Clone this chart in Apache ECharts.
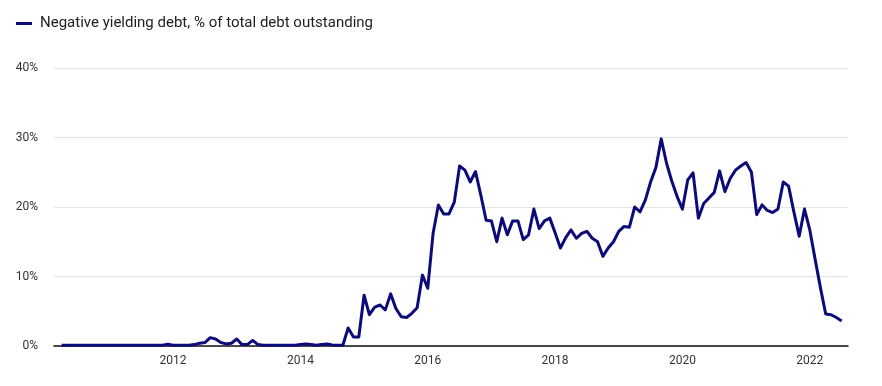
<!DOCTYPE html>
<html>
<head>
<meta charset="utf-8">
<script src="https://cdn.jsdelivr.net/npm/echarts@6/dist/echarts.min.js"></script>
<style>
  html, body { margin: 0; padding: 0; background: #ffffff; }
  #chart { width: 882px; height: 386px; }
</style>
</head>
<body>
<div id="chart"></div>
<script>
// Months (first of month), April 2010 to July 2022
const months = [
  '2010-04','2010-05','2010-06','2010-07','2010-08','2010-09','2010-10','2010-11','2010-12',
  '2011-01','2011-02','2011-03','2011-04','2011-05','2011-06','2011-07','2011-08','2011-09','2011-10','2011-11','2011-12',
  '2012-01','2012-02','2012-03','2012-04','2012-05','2012-06','2012-07','2012-08','2012-09','2012-10','2012-11','2012-12',
  '2013-01','2013-02','2013-03','2013-04','2013-05','2013-06','2013-07','2013-08','2013-09','2013-10','2013-11','2013-12',
  '2014-01','2014-02','2014-03','2014-04','2014-05','2014-06','2014-07','2014-08','2014-09','2014-10','2014-11','2014-12',
  '2015-01','2015-02','2015-03','2015-04','2015-05','2015-06','2015-07','2015-08','2015-09','2015-10','2015-11','2015-12',
  '2016-01','2016-02','2016-03','2016-04','2016-05','2016-06','2016-07','2016-08','2016-09','2016-10','2016-11','2016-12',
  '2017-01','2017-02','2017-03','2017-04','2017-05','2017-06','2017-07','2017-08','2017-09','2017-10','2017-11','2017-12',
  '2018-01','2018-02','2018-03','2018-04','2018-05','2018-06','2018-07','2018-08','2018-09','2018-10','2018-11','2018-12',
  '2019-01','2019-02','2019-03','2019-04','2019-05','2019-06','2019-07','2019-08','2019-09','2019-10','2019-11','2019-12',
  '2020-01','2020-02','2020-03','2020-04','2020-05','2020-06','2020-07','2020-08','2020-09','2020-10','2020-11','2020-12',
  '2021-01','2021-02','2021-03','2021-04','2021-05','2021-06','2021-07','2021-08','2021-09','2021-10','2021-11','2021-12',
  '2022-01','2022-02','2022-03','2022-04','2022-05','2022-06','2022-07'
];

// Negative yielding debt, % of total debt outstanding
const negativeYieldShare = [
  0.1,0.1,0.1,0.1,0.1,0.1,0.1,0.1,0.1,
  0.1,0.1,0.1,0.1,0.1,0.1,0.1,0.1,0.1,0.1,0.1,0.25,
  0.1,0.1,0.1,0.1,0.2,0.4,0.5,1.2,1.0,0.5,0.3,0.4,
  1.0,0.2,0.2,0.8,0.2,0.1,0.1,0.1,0.1,0.1,0.1,0.1,
  0.2,0.3,0.2,0.1,0.2,0.3,0.15,0.1,0.1,2.6,1.3,1.3,
  7.3,4.5,5.6,5.9,5.2,7.5,5.4,4.2,4.1,4.7,5.5,10.2,
  8.3,16.2,20.3,19.0,19.0,20.7,25.9,25.3,23.6,25.1,21.7,18.1,
  18.0,15.0,18.4,16.0,18.0,18.0,15.3,16.0,19.7,16.9,18.0,18.4,
  16.3,14.1,15.6,16.7,15.5,16.2,16.5,15.5,15.0,12.9,14.1,15.0,
  16.5,17.2,17.1,20.0,19.3,21.0,23.6,25.7,29.8,26.3,23.7,21.5,
  19.7,23.9,24.9,18.4,20.5,21.3,22.1,25.2,22.2,24.1,25.3,25.9,
  26.4,25.0,18.9,20.3,19.5,19.2,19.7,23.6,23.0,19.3,15.8,19.7,
  16.7,12.5,8.4,4.6,4.5,4.1,3.6
];

const yearLabels = [2012, 2014, 2016, 2018, 2020, 2022];
const yTicks = [0, 10, 20, 30, 40];
const seriesName = 'Negative yielding debt, % of total debt outstanding';

function toYear(m) {
  const [y, mo] = m.split('-').map(Number);
  return y + (mo - 1) / 12;
}
const seriesData = months.map((m, i) => [toYear(m), negativeYieldShare[i]]);

const chart = echarts.init(document.getElementById('chart'), null, { renderer: 'canvas' });
const font = 'Roboto, "Noto Sans", sans-serif';
chart.setOption({
  animation: false,
  backgroundColor: '#ffffff',
  legend: {
    show: true,
    left: 11,
    top: 11,
    icon: 'rect',
    itemWidth: 16,
    itemHeight: 3,
    itemGap: 10,
    selectedMode: false,
    textStyle: { fontFamily: font, fontSize: 15, color: '#1e1e1e', padding: [0, 0, 0, 3] },
    data: [seriesName]
  },
  grid: { left: 54, right: 34, top: 68, bottom: 40, containLabel: false },
  xAxis: {
    type: 'value',
    min: 2010.13,
    max: 2022.6,
    splitLine: { show: false },
    axisTick: { show: false },
    axisLine: { show: true, lineStyle: { color: '#111111', width: 1.5 } },
    axisLabel: {
      customValues: yearLabels,
      formatter: v => String(Math.round(v)),
      fontFamily: font,
      fontSize: 12,
      color: '#333333',
      margin: 9
    }
  },
  yAxis: {
    type: 'value',
    min: 0,
    max: 40,
    interval: 10,
    axisLine: { show: false },
    axisTick: { show: false },
    splitLine: { show: true, lineStyle: { color: '#e4e4e4', width: 1 } },
    axisLabel: {
      formatter: v => yTicks.includes(v) ? v + '%' : '',
      fontFamily: font,
      fontSize: 12,
      color: '#333333',
      margin: 16
    }
  },
  series: [{
    name: seriesName,
    type: 'line',
    data: seriesData,
    showSymbol: false,
    symbol: 'none',
    lineStyle: { color: '#0b0b7a', width: 3, join: 'round' },
    itemStyle: { color: '#0b0b7a' },
    z: 3
  }]
});
</script>
</body>
</html>
